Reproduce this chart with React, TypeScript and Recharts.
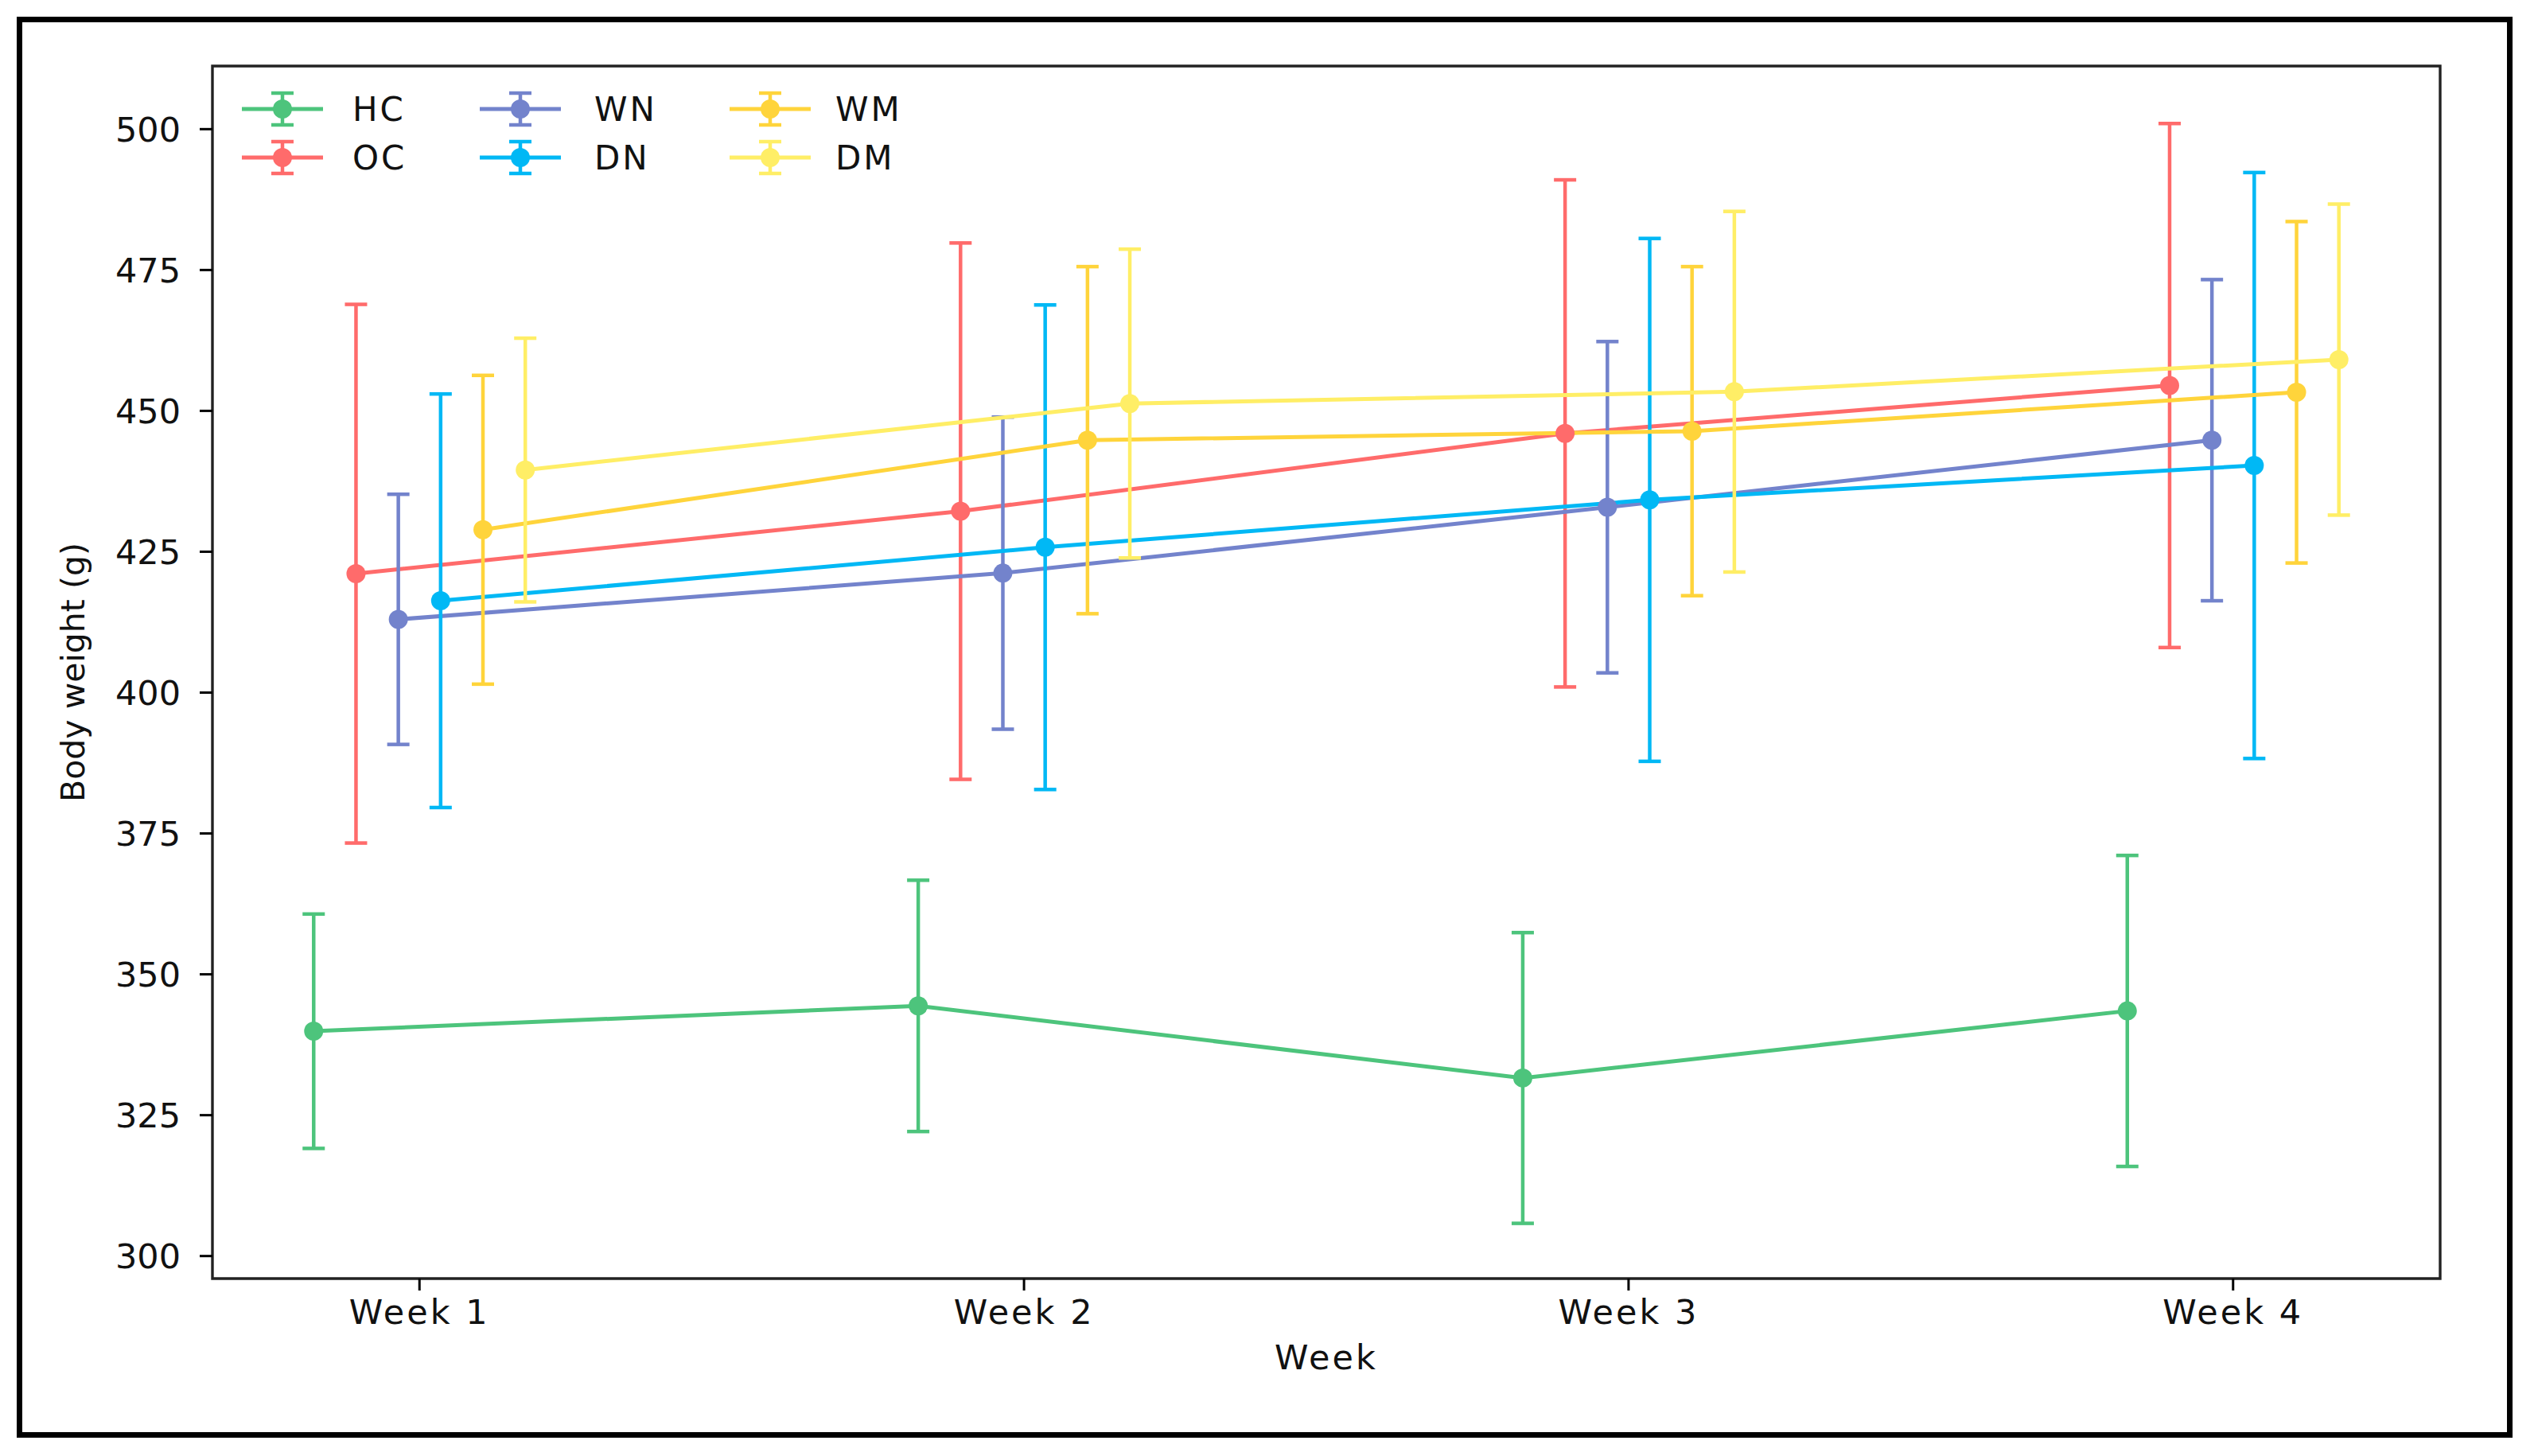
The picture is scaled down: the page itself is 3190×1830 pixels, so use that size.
import React from 'react';
import { LineChart, Line, XAxis, YAxis, ErrorBar, Legend, ReferenceArea } from 'recharts';

const weeks = ['Week 1', 'Week 2', 'Week 3', 'Week 4'];
const groups = ['HC', 'OC', 'WN', 'DN', 'WM', 'DM'];
const colors = ['#4DC47C', '#FF6B6B', '#7383CC', '#00B8F5', '#FFD43B', '#FFEE66'];
const offsets = [-0.175, -0.105, -0.035, 0.035, 0.105, 0.175];
const yTicks = [300, 325, 350, 375, 400, 425, 450, 475, 500];

const hcMean = [339.9, 344.4, 331.6, 343.5];
const hcSd = [20.8, 22.3, 25.8, 27.6];
const ocMean = [421.1, 432.2, 446.0, 454.5];
const ocSd = [47.8, 47.6, 45.0, 46.5];
const wnMean = [413.0, 421.2, 432.9, 444.8];
const wnSd = [22.2, 27.7, 29.4, 28.5];
const dnMean = [416.3, 425.8, 434.2, 440.3];
const dnSd = [36.7, 43.0, 46.4, 52.0];
const wmMean = [428.9, 444.8, 446.4, 453.3];
const wmSd = [27.4, 30.8, 29.2, 30.3];
const dmMean = [439.5, 451.3, 453.4, 459.1];
const dmSd = [23.4, 27.4, 32.0, 27.6];

const means = [hcMean, ocMean, wnMean, dnMean, wmMean, dmMean];
const sds = [hcSd, ocSd, wnSd, dnSd, wmSd, dmSd];

const seriesData = groups.map((g, i) =>
  weeks.map((w, j) => ({ x: j + offsets[i], y: means[i][j], err: sds[i][j] }))
);

const X_DOMAIN: [number, number] = [-0.3425, 3.3425];
const Y_DOMAIN: [number, number] = [296, 511.2];
const FONT = 'DejaVu Sans, Verdana, sans-serif';
const TEXT = '#111';

const legendHandleX = [355, 654, 968];
const legendTextX = [443, 747, 1050];
const legendRowY = [137, 198];

const LegendContent = () => (
  <svg width={1200} height={260} style={{ position: 'absolute', left: 0, top: 0 }}>
    {groups.map((g, i) => {
      const col = Math.floor(i / 2);
      const row = i % 2;
      const cx = legendHandleX[col];
      const cy = legendRowY[row];
      const c = colors[i];
      return (
        <g key={g}>
          <line x1={cx - 51} x2={cx + 51} y1={cy} y2={cy} stroke={c} strokeWidth={5} />
          <line x1={cx} x2={cx} y1={cy - 20} y2={cy + 20} stroke={c} strokeWidth={4.5} />
          <line x1={cx - 14} x2={cx + 14} y1={cy - 20} y2={cy - 20} stroke={c} strokeWidth={4.5} />
          <line x1={cx - 14} x2={cx + 14} y1={cy + 20} y2={cy + 20} stroke={c} strokeWidth={4.5} />
          <circle cx={cx} cy={cy} r={12} fill={c} />
          <text
            x={legendTextX[col]}
            y={cy}
            dy="0.36em"
            fontSize={42}
            fontFamily={FONT}
            fill={TEXT}
            letterSpacing={3}
          >
            {g}
          </text>
        </g>
      );
    })}
  </svg>
);

export default function App() {
  return (
    <div style={{ position: 'absolute', left: 0, top: 0, width: 3190, height: 1830, background: '#fff' }}>
      <div
        style={{
          position: 'absolute',
          left: 21,
          top: 21,
          width: 3137,
          height: 1786,
          border: '7px solid #000',
          boxSizing: 'border-box',
        }}
      />
      <div style={{ position: 'absolute', left: 0, top: 0 }}>
        <LineChart
          width={3190}
          height={1830}
          margin={{ top: 83, right: 123, bottom: 123, left: 67 }}
          style={{ fontFamily: FONT }}
        >
          <XAxis
            type="number"
            dataKey="x"
            domain={X_DOMAIN}
            allowDataOverflow
            ticks={[0, 1, 2, 3]}
            tickFormatter={(v: number) => weeks[v] ?? ''}
            height={100}
            tickSize={15}
            tickMargin={11}
            axisLine={false}
            tickLine={{ stroke: '#000', strokeWidth: 3 }}
            tick={{ fontSize: 43, fill: TEXT, fontFamily: FONT, letterSpacing: 3 }}
            label={{
              value: 'Week',
              position: 'bottom',
              offset: -17,
              fontSize: 43,
              fill: TEXT,
              fontFamily: FONT,
              letterSpacing: 3,
            }}
          />
          <YAxis
            type="number"
            domain={Y_DOMAIN}
            allowDataOverflow
            ticks={yTicks}
            width={200}
            tickSize={16}
            tickMargin={24}
            axisLine={false}
            tickLine={{ stroke: '#000', strokeWidth: 3 }}
            tick={{ fontSize: 43, fill: TEXT, fontFamily: FONT }}
            label={{
              value: 'Body weight (g)',
              angle: -90,
              position: 'insideLeft',
              offset: 24,
              fontSize: 41,
              fill: TEXT,
              fontFamily: FONT,
              style: { textAnchor: 'middle' },
            }}
          />
          {groups.map((g, i) => (
            <Line
              key={g}
              data={seriesData[i]}
              dataKey="y"
              name={g}
              stroke={colors[i]}
              strokeWidth={5}
              dot={{ r: 12, fill: colors[i], stroke: 'none' }}
              activeDot={false}
              isAnimationActive={false}
            >
              <ErrorBar dataKey="err" width={14} strokeWidth={4.5} stroke={colors[i]} direction="y" />
            </Line>
          ))}
          <ReferenceArea
            x1={X_DOMAIN[0]}
            x2={X_DOMAIN[1]}
            y1={Y_DOMAIN[0]}
            y2={Y_DOMAIN[1]}
            fill="none"
            fillOpacity={0}
            stroke="#222"
            strokeWidth={3.4}
            ifOverflow="visible"
          />
          <Legend
            layout="vertical"
            align="center"
            verticalAlign="middle"
            wrapperStyle={{ position: 'absolute', left: 0, top: 0, width: 1200, height: 260 }}
            content={<LegendContent />}
          />
        </LineChart>
      </div>
    </div>
  );
}
